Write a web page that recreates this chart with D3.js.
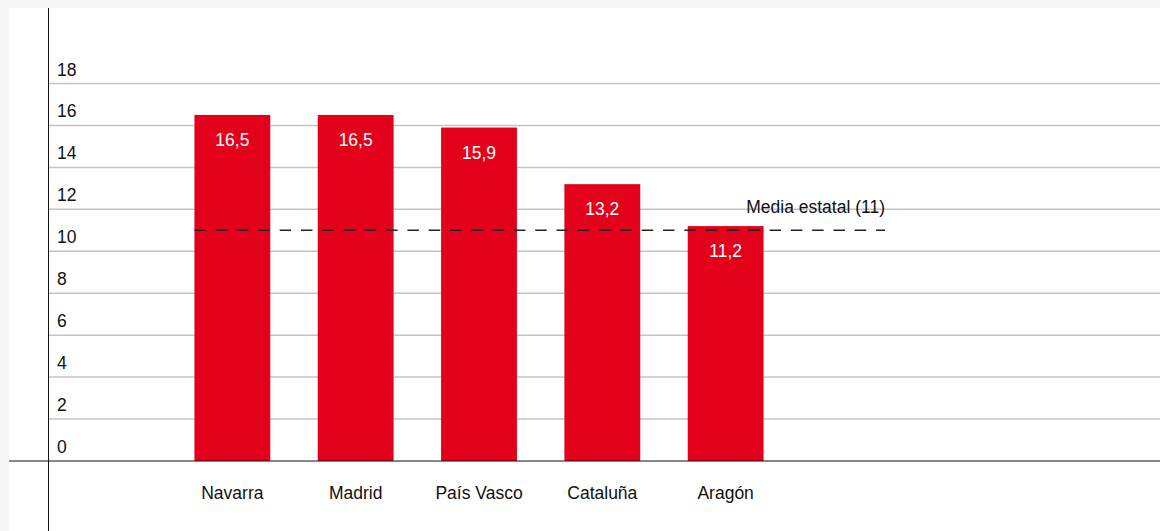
<!DOCTYPE html>
<html lang="es">
<head>
<meta charset="utf-8">
<script src="https://cdn.jsdelivr.net/npm/d3@7"></script>
<style>
  html, body { margin: 0; padding: 0; background: #f7f7f7; }
  svg { display: block; font-family: "Liberation Sans", Arial, Helvetica, sans-serif; }
</style>
</head>
<body>
<svg id="chart" width="1160" height="531"></svg>
<script>
// Comunidades autónomas y su valor
const categories = ["Navarra", "Madrid", "País Vasco", "Cataluña", "Aragón"];
const values = [16.5, 16.5, 15.9, 13.2, 11.2];
const valueLabels = ["16,5", "16,5", "15,9", "13,2", "11,2"];
const yTicks = [0, 2, 4, 6, 8, 10, 12, 14, 16, 18];
const average = 11;
const averageLabel = "Media estatal (11)";

const W = 1160, H = 531;
const FS = 17.5;
const svg = d3.select("#chart");

// White panel
svg.append("rect").attr("x", 9).attr("y", 8).attr("width", W - 9).attr("height", H - 8).attr("fill", "#ffffff");

const axisX = 48.5;
const y = d3.scaleLinear().domain([0, 18]).range([461, 83.5]);
const x = d3.scaleBand()
  .domain(categories)
  .range([171, 787])
  .paddingInner(0.385)
  .paddingOuter(0.19);

// Horizontal grid lines with labels above them
const grid = svg.append("g");
grid.selectAll("line")
  .data(yTicks.filter(d => d > 0))
  .join("line")
  .attr("x1", axisX).attr("x2", W)
  .attr("y1", d => y(d)).attr("y2", d => y(d))
  .attr("stroke", "#c4c4c4").attr("stroke-width", 1.5);

grid.selectAll("text")
  .data(yTicks)
  .join("text")
  .attr("x", 57)
  .attr("y", d => y(d) - 8)
  .attr("font-size", FS)
  .attr("fill", "#111")
  .text(d => d);

// Bars
svg.append("g").selectAll("rect")
  .data(values)
  .join("rect")
  .attr("x", (d, i) => x(categories[i]))
  .attr("y", d => y(d))
  .attr("width", x.bandwidth())
  .attr("height", d => y(0) - y(d))
  .attr("fill", "#e2001a");

// Value labels inside the bars
svg.append("g").selectAll("text")
  .data(values)
  .join("text")
  .attr("x", (d, i) => x(categories[i]) + x.bandwidth() / 2)
  .attr("y", d => y(d) + 31)
  .attr("text-anchor", "middle")
  .attr("font-size", FS)
  .attr("fill", "#ffffff")
  .text((d, i) => valueLabels[i]);

// Category labels
svg.append("g").selectAll("text")
  .data(categories)
  .join("text")
  .attr("x", d => x(d) + x.bandwidth() / 2)
  .attr("y", 499)
  .attr("text-anchor", "middle")
  .attr("font-size", FS)
  .attr("fill", "#111")
  .text(d => d);

// National average reference line
const avgX1 = x(categories[0]), avgX2 = 885;
svg.append("line")
  .attr("x1", avgX1).attr("x2", avgX2)
  .attr("y1", y(average)).attr("y2", y(average))
  .attr("stroke", "#222").attr("stroke-width", 1.4)
  .attr("stroke-dasharray", "11.5,9.8");
svg.append("text")
  .attr("x", avgX2)
  .attr("y", y(average) - 17)
  .attr("text-anchor", "end")
  .attr("font-size", FS)
  .attr("fill", "#111")
  .text(averageLabel);

// Axes
svg.append("line")
  .attr("x1", axisX).attr("x2", axisX).attr("y1", 8).attr("y2", H)
  .attr("stroke", "#111").attr("stroke-width", 1);
svg.append("line")
  .attr("x1", 9).attr("x2", W).attr("y1", y(0)).attr("y2", y(0))
  .attr("stroke", "#111").attr("stroke-width", 1);
</script>
</body>
</html>
